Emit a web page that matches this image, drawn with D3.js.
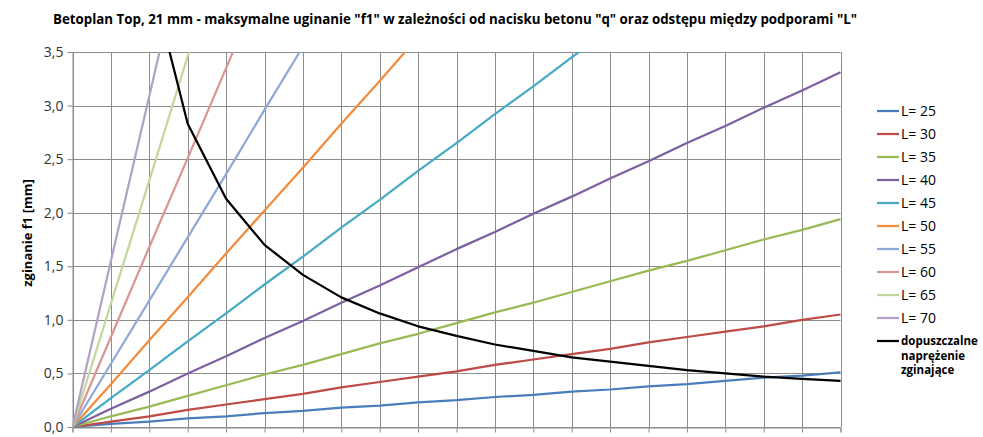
<!DOCTYPE html>
<html>
<head>
<meta charset="utf-8">
<script src="https://cdn.jsdelivr.net/npm/d3@7/dist/d3.min.js"></script>
<style>
  html, body { margin: 0; padding: 0; background: #fff; overflow: hidden; }
  svg { display: block; }
</style>
</head>
<body>
<svg id="chart" width="983" height="460"></svg>
<script>
// Nacisk betonu q (kategorie osi X)
const qLabels = ["0","5","10","15","20","25","30","35","40","45","50","55","60","65","70","75","80","85","90","95","100"];

// Ugięcie f1 [mm] dla kolejnych rozstawów podpór L
const L25 = [0, 0.03, 0.05, 0.08, 0.10, 0.13, 0.15, 0.18, 0.20, 0.23, 0.25, 0.28, 0.30, 0.33, 0.35, 0.38, 0.40, 0.43, 0.46, 0.48, 0.51];
const L30 = [0, 0.05, 0.10, 0.16, 0.21, 0.26, 0.31, 0.37, 0.42, 0.47, 0.52, 0.58, 0.63, 0.68, 0.73, 0.79, 0.84, 0.89, 0.94, 1.00, 1.05];
const L35 = [0, 0.10, 0.19, 0.29, 0.39, 0.49, 0.58, 0.68, 0.78, 0.87, 0.97, 1.07, 1.16, 1.26, 1.36, 1.46, 1.55, 1.65, 1.75, 1.84, 1.94];
const L40 = [0, 0.17, 0.33, 0.50, 0.66, 0.83, 0.99, 1.16, 1.32, 1.49, 1.66, 1.82, 1.99, 2.15, 2.32, 2.48, 2.65, 2.81, 2.98, 3.14, 3.31];
const L45 = [0, 0.27, 0.53, 0.80, 1.06, 1.33, 1.59, 1.86, 2.12, 2.39, 2.65, 2.92, 3.18, 3.45, 3.71, 3.98, 4.24, 4.51, 4.77, 5.04, 5.30];
const L50 = [0, 0.40, 0.81, 1.21, 1.62, 2.02, 2.42, 2.83, 3.23, 3.64, 4.04, 4.44, 4.85, 5.25, 5.66, 6.06, 6.46, 6.87, 7.27, 7.68, 8.08];
const L55 = [0, 0.59, 1.18, 1.77, 2.36, 2.96, 3.55, 4.14, 4.73, 5.32, 5.91, 6.50, 7.09, 7.68, 8.27, 8.87, 9.46, 10.05, 10.64, 11.23, 11.82];
const L60 = [0, 0.84, 1.68, 2.51, 3.35, 4.19, 5.03, 5.87, 6.70, 7.54, 8.38, 9.22, 10.06, 10.89, 11.73, 12.57, 13.41, 14.25, 15.08, 15.92, 16.76];
const L65 = [0, 1.15, 2.30, 3.46, 4.61, 5.76, 6.91, 8.06, 9.22, 10.37, 11.52, 12.67, 13.82, 14.98, 16.13, 17.28, 18.43, 19.58, 20.74, 21.89, 23.04];
const L70 = [0, 1.55, 3.09, 4.64, 6.18, 7.73, 9.27, 10.82, 12.36, 13.91, 15.45, 17.00, 18.54, 20.09, 21.63, 23.18, 24.72, 26.27, 27.81, 29.36, 30.90];

// Dopuszczalne naprężenie zginające (przeliczone na ugięcie)
const allowable = [null, 8.50, 4.25, 2.83, 2.13, 1.70, 1.42, 1.21, 1.06, 0.94, 0.85, 0.77, 0.71, 0.65, 0.61, 0.57, 0.53, 0.50, 0.47, 0.45, 0.43];

const seriesNames = ["L= 25","L= 30","L= 35","L= 40","L= 45","L= 50","L= 55","L= 60","L= 65","L= 70"];
const seriesValues = [L25, L30, L35, L40, L45, L50, L55, L60, L65, L70];
const seriesColors = ["#4a7ebb","#be4b48","#98b954","#7d60a0","#46aac5","#f38b3d","#8eaad8","#d99694","#c3d69b","#b3a2c7"];
const allowableName = ["dopuszczalne", "naprężenie", "zginające"];

const yTicks = [0, 0.5, 1.0, 1.5, 2.0, 2.5, 3.0, 3.5];

const svg = d3.select("#chart");
const plot = { left: 72.5, right: 840.5, top: 52, bottom: 427 };

const x = d3.scalePoint().domain(qLabels).range([plot.left, plot.right]);
const y = d3.scaleLinear().domain([0, 3.5]).range([plot.bottom, plot.top]);

const fontMain = "'Open Sans', 'DejaVu Sans', sans-serif";
const gridColor = "#8c8c8c";

// Tytuł
svg.append("text")
  .attr("x", 455).attr("y", 24)
  .attr("text-anchor", "middle")
  .attr("font-family", fontMain)
  .attr("font-weight", "bold")
  .attr("font-size", 14)
  .attr("textLength", 804)
  .attr("lengthAdjust", "spacingAndGlyphs")
  .attr("fill", "#000")
  .text('Betoplan Top, 21 mm - maksymalne uginanie "f1" w zależności od nacisku betonu "q" oraz odstępu między podporami "L"');

// Siatka pozioma
svg.append("g")
  .selectAll("line")
  .data(yTicks)
  .join("line")
  .attr("x1", plot.left).attr("x2", plot.right)
  .attr("y1", d => Math.round(y(d)) + 0.5).attr("y2", d => Math.round(y(d)) + 0.5)
  .attr("stroke", gridColor).attr("stroke-width", 1);

// Siatka pionowa
svg.append("g")
  .selectAll("line")
  .data(qLabels)
  .join("line")
  .attr("x1", d => Math.round(x(d)) + 0.5).attr("x2", d => Math.round(x(d)) + 0.5)
  .attr("y1", plot.top).attr("y2", plot.bottom)
  .attr("stroke", gridColor).attr("stroke-width", 1);

// Oś Y
const yAxis = d3.axisLeft(y)
  .tickValues(yTicks)
  .tickSize(5)
  .tickPadding(4)
  .tickFormat(d => d3.format(".1f")(d).replace(".", ","));
const gy = svg.append("g")
  .attr("transform", `translate(${plot.left},0)`)
  .call(yAxis);
gy.select(".domain").attr("stroke", gridColor);
gy.selectAll(".tick line").attr("stroke", gridColor);
gy.selectAll(".tick text")
  .attr("font-family", fontMain)
  .attr("font-size", 14)
  .attr("fill", "#333");

// Oś X (etykiety leżą przy dolnej krawędzi)
const xAxis = d3.axisBottom(x).tickSize(5).tickPadding(6);
const gx = svg.append("g")
  .attr("transform", `translate(0,${plot.bottom + 0.5})`)
  .call(xAxis);
gx.select(".domain").attr("stroke", gridColor);
gx.selectAll(".tick line").attr("stroke", gridColor);
gx.selectAll(".tick text")
  .attr("font-family", fontMain)
  .attr("font-size", 14)
  .attr("fill", "#333");

// Tytuł osi Y
svg.append("text")
  .attr("transform", "translate(32,233) rotate(-90)")
  .attr("text-anchor", "middle")
  .attr("font-family", fontMain)
  .attr("font-weight", "bold")
  .attr("font-size", 13)
  .attr("fill", "#000")
  .text("zginanie f1 [mm]");

// Obszar przycięcia wykresu
svg.append("clipPath").attr("id", "plot-clip")
  .append("rect")
  .attr("x", plot.left).attr("y", plot.top)
  .attr("width", plot.right - plot.left + 2)
  .attr("height", plot.bottom - plot.top + 2);

const line = d3.line()
  .defined(d => d != null)
  .x((d, i) => x(qLabels[i]))
  .y(d => y(d));

const lines = svg.append("g").attr("clip-path", "url(#plot-clip)");
seriesValues.forEach((vals, k) => {
  lines.append("path")
    .datum(vals)
    .attr("fill", "none")
    .attr("stroke", seriesColors[k])
    .attr("stroke-width", 2.25)
    .attr("stroke-linejoin", "round")
    .attr("d", line);
});
lines.append("path")
  .datum(allowable)
  .attr("fill", "none")
  .attr("stroke", "#000")
  .attr("stroke-width", 2.25)
  .attr("stroke-linejoin", "round")
  .attr("d", line);

// Legenda
const legend = svg.append("g");
seriesNames.forEach((name, k) => {
  const cy = 111 + k * 23;
  legend.append("line")
    .attr("x1", 877).attr("x2", 899)
    .attr("y1", cy).attr("y2", cy)
    .attr("stroke", seriesColors[k]).attr("stroke-width", 2.25);
  legend.append("text")
    .attr("x", 901).attr("y", cy)
    .attr("dy", "0.35em")
    .attr("font-family", fontMain)
    .attr("font-size", 14)
    .attr("fill", "#000")
    .text(name);
});
const by = 341;
legend.append("line")
  .attr("x1", 877).attr("x2", 899)
  .attr("y1", by).attr("y2", by)
  .attr("stroke", "#000").attr("stroke-width", 2.25);
allowableName.forEach((t, j) => {
  legend.append("text")
    .attr("x", 901).attr("y", by + j * 14.5)
    .attr("dy", "0.35em")
    .attr("font-family", fontMain)
    .attr("font-weight", "bold")
    .attr("font-size", 11.5)
    .attr("fill", "#000")
    .text(t);
});
</script>
</body>
</html>
